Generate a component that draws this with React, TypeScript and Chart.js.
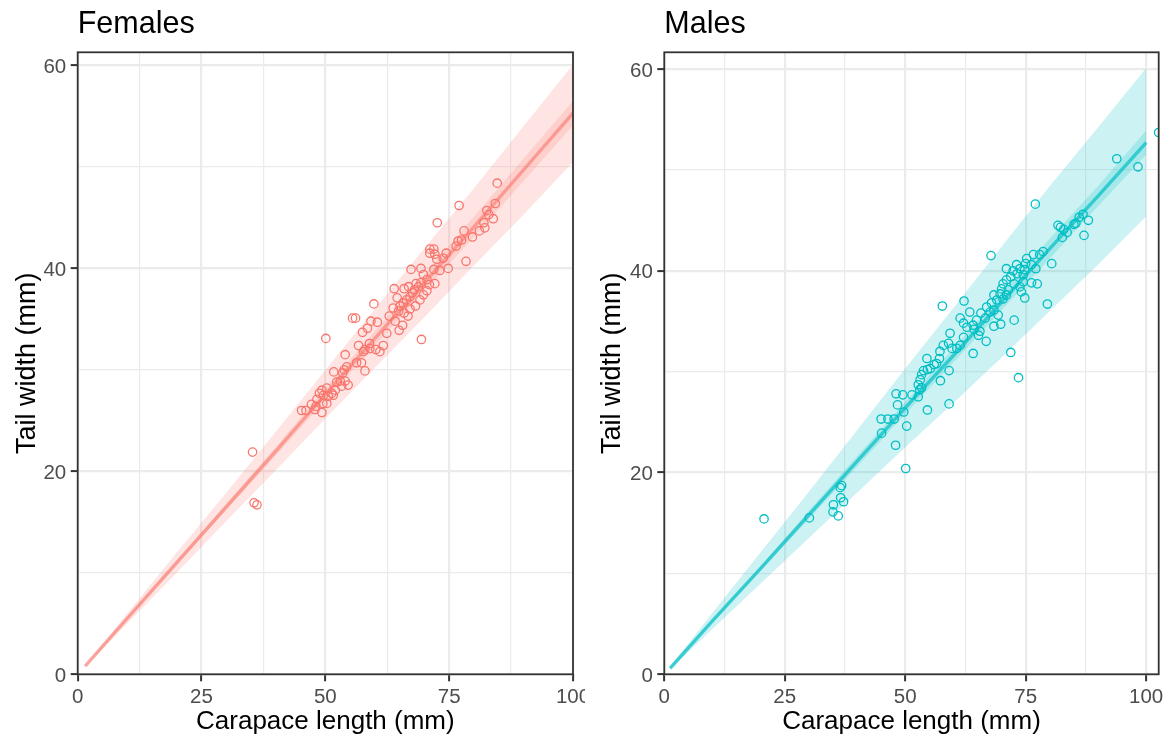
import React, { useEffect, useRef } from "react";
import { Chart, registerables } from "chart.js";
Chart.register(...registerables);

// ---------- data ----------
const panelTitles = ["Females", "Males"];
const xAxisTitle = "Carapace length (mm)";
const yAxisTitle = "Tail width (mm)";

const majorXTicks = [0, 25, 50, 75, 100];
const minorXTicks = [12.5, 37.5, 62.5, 87.5];
const majorYTicks = [0, 20, 40, 60];
const minorYTicks = [10, 30, 50];

// Females observations
const femaleX = [84.7, 77.0, 72.6, 84.3, 82.6, 83.0, 83.9, 82.0, 82.2, 81.1, 79.7, 78.0, 77.5, 76.8, 76.4, 78.4, 74.8, 74.4, 73.8, 71.1,
  71.9, 71.1, 72.1, 72.5, 73.1, 71.9, 69.3, 67.3, 69.8, 70.5, 72.1, 71.0, 69.3, 68.3, 68.8, 68.0, 70.5, 69.8, 69.1, 67.6,
  67.1, 68.2, 66.4, 65.7, 65.1, 64.8, 65.9, 67.1, 66.8, 65.9, 63.9, 64.5, 63.7, 62.9, 64.1, 65.6, 64.9, 66.7, 62.4, 59.8,
  60.5, 59.2, 58.5, 57.5, 55.5, 56.1, 50.1, 69.4, 61.7, 58.9, 59.0, 58.0, 60.2, 61.0, 56.7, 57.7, 54.0, 56.3, 57.3, 58.0,
  54.3, 53.8, 53.5, 51.7, 53.0, 52.3, 54.0, 54.6, 53.3, 52.0, 51.3, 50.3, 49.3, 48.8, 49.6, 50.6, 51.6, 48.3, 47.2, 48.1,
  49.5, 50.3, 45.2, 46.1, 47.9, 49.3, 35.3, 35.6, 36.2];
const femaleY = [48.4, 46.2, 44.5, 46.4, 45.7, 45.3, 44.9, 44.5, 44.0, 43.7, 43.1, 43.7, 42.8, 42.7, 42.2, 40.7, 40.0, 41.5, 41.0, 41.9,
  41.9, 41.5, 41.4, 40.9, 39.8, 39.9, 40.0, 39.9, 39.4, 38.9, 38.5, 38.4, 38.6, 38.5, 38.2, 37.9, 37.8, 37.4, 36.9, 37.6,
  37.2, 36.3, 36.9, 36.6, 36.3, 35.8, 35.6, 36.0, 38.2, 38.0, 38.0, 37.1, 36.1, 35.3, 34.8, 34.4, 33.9, 35.3, 33.6, 36.5,
  34.7, 34.8, 34.1, 33.7, 35.1, 35.1, 33.1, 33.0, 32.4, 32.6, 32.1, 32.0, 32.0, 31.8, 32.4, 31.8, 31.5, 30.7, 30.7, 29.9,
  30.3, 30.0, 29.7, 29.8, 28.9, 28.8, 28.9, 28.5, 28.4, 28.0, 27.7, 28.2, 28.0, 27.7, 27.5, 27.4, 27.5, 27.1, 26.6, 26.4,
  26.7, 26.7, 26.0, 26.0, 26.1, 25.8, 21.9, 16.9, 16.7];

// Males observations
const maleX = [93.9, 98.3, 77.0, 88.0, 87.1, 86.9, 86.1, 85.4, 85.0, 81.7, 82.2, 82.9, 83.6, 82.6, 67.8, 80.4, 79.5, 71.9, 57.7, 62.2,
  78.6, 77.9, 76.6, 75.2, 75.0, 76.2, 77.1, 74.8, 73.8, 73.1, 72.4, 71.0, 71.9, 73.2, 74.5, 76.2, 77.4, 74.5, 73.8, 72.6,
  71.0, 70.3, 70.0, 71.4, 69.7, 71.0, 68.4, 69.0, 70.3, 74.1, 74.8, 66.9, 67.9, 67.6, 65.7, 66.6, 64.8, 64.1, 63.4, 61.4,
  62.1, 62.8, 64.3, 65.5, 66.8, 65.2, 68.4, 69.8, 69.3, 68.4, 72.6, 59.3, 59.0, 57.9, 59.7, 60.7, 57.2, 61.4, 62.1, 64.1,
  54.5, 57.1, 73.5, 53.1, 52.7, 53.4, 54.6, 53.8, 56.5, 59.1, 57.3, 48.1, 49.5, 51.4, 52.7, 48.4, 49.7, 54.6, 59.1, 45.0,
  46.4, 47.7, 50.3, 45.1, 48.0, 50.1, 53.0, 53.4, 55.2, 56.0, 20.7, 30.1, 35.1, 35.0, 36.1, 36.8, 36.5, 36.6, 37.2, 102.6];
const maleY = [51.1, 50.3, 46.6, 45.0, 43.5, 45.6, 45.3, 44.7, 44.6, 44.5, 44.3, 44.1, 43.8, 43.3, 41.5, 40.7, 36.7, 31.9, 36.5, 37.0,
  41.9, 41.6, 41.6, 41.2, 40.7, 40.6, 40.2, 40.1, 40.2, 40.6, 40.0, 40.2, 39.4, 39.7, 39.6, 38.8, 38.7, 38.9, 38.4, 38.7,
  39.1, 38.7, 38.2, 38.1, 37.7, 37.6, 37.6, 37.1, 37.2, 37.9, 37.3, 36.4, 36.8, 35.9, 35.8, 35.3, 35.1, 34.6, 35.9, 35.3,
  34.8, 34.4, 34.2, 34.0, 33.0, 33.6, 34.5, 34.7, 35.6, 36.1, 35.1, 33.8, 32.8, 32.6, 32.3, 32.3, 32.0, 32.6, 33.4, 31.8,
  31.3, 31.3, 29.4, 29.2, 28.7, 29.7, 30.2, 30.1, 30.8, 30.1, 29.1, 27.8, 27.7, 27.7, 27.5, 26.7, 26.0, 26.2, 26.8, 25.3,
  25.3, 25.3, 24.6, 23.9, 22.7, 20.4, 28.2, 28.4, 30.3, 30.7, 15.4, 15.5, 16.8, 16.1, 15.7, 18.7, 18.5, 17.5, 17.1, 53.7];

// Fitted line and intervals (Females)
const femaleFitX = [1.5, 10, 20, 30, 40, 50, 60, 70, 80, 90, 100];
const femaleFit = [0.8, 5.5, 11.0, 16.5, 22.0, 27.6, 33.1, 38.6, 44.1, 49.7, 55.3];
const femaleInnerLo = [0.78, 5.4, 10.8, 16.2, 21.6, 27.0, 32.4, 37.8, 43.1, 48.6, 54.1];
const femaleInnerHi = [0.82, 5.6, 11.2, 16.8, 22.4, 28.2, 33.8, 39.4, 45.1, 50.8, 56.5];
const femaleOuterLo = [0.75, 5.0, 10.0, 15.1, 20.1, 25.2, 30.2, 35.2, 40.3, 45.3, 50.5];
const femaleOuterHi = [0.85, 6.0, 12.0, 17.9, 23.9, 30.0, 36.0, 42.0, 47.9, 54.0, 60.1];

// Fitted line and intervals (Males)
const maleFitX = [1.2, 10, 20, 30, 40, 50, 60, 70, 80, 90, 100];
const maleFit = [0.6, 5.3, 10.5, 15.8, 21.1, 26.4, 31.6, 36.9, 42.2, 47.4, 52.7];
const maleInnerLo = [0.58, 5.2, 10.3, 15.4, 20.6, 25.8, 30.9, 36.1, 41.2, 46.4, 51.5];
const maleInnerHi = [0.62, 5.4, 10.7, 16.2, 21.6, 27.0, 32.3, 37.7, 43.2, 48.4, 53.9];
const maleOuterLo = [0.5, 4.5, 9.0, 13.5, 18.0, 22.5, 26.9, 31.4, 36.0, 40.6, 45.4];
const maleOuterHi = [0.7, 6.1, 12.1, 18.1, 24.2, 30.3, 36.3, 42.4, 48.4, 54.2, 60.1];

// ---------- helpers ----------
const FONT = "'Liberation Sans', Arial, Helvetica, sans-serif";
Chart.defaults.font.family = FONT;

const pts = (xs: number[], ys: number[]) => xs.map((x, i) => ({ x, y: ys[i] }));
const allX = [...majorXTicks, ...minorXTicks].sort((a, b) => a - b);
const allY = [...majorYTicks, ...minorYTicks].sort((a, b) => a - b);

const decoPlugin = {
  id: "panelDeco",
  afterDatasetsDraw(chart: any) {
    const { ctx, chartArea } = chart;
    const { left, top, right, bottom } = chartArea;
    ctx.save();
    ctx.strokeStyle = "#333333";
    ctx.lineWidth = 1.8;
    ctx.strokeRect(left, top, right - left, bottom - top);
    ctx.restore();
  },
  afterDraw(chart: any, _args: any, opts: any) {
    const { ctx, chartArea } = chart;
    ctx.save();
    ctx.font = `30.5px ${FONT}`;
    ctx.fillStyle = "#000000";
    ctx.textBaseline = "alphabetic";
    ctx.textAlign = "left";
    ctx.fillText(opts.text, chartArea.left, 32.5);
    ctx.restore();
  },
};

type PanelCfg = {
  title: string;
  left: number;
  width: number;
  yAxisWidth: number;
  padRight: number;
  xMax: number;
  yMax: number;
  rgb: string;
  lineAlpha: number;
  px: number[];
  py: number[];
  fitX: number[];
  fit: number[];
  innerLo: number[];
  innerHi: number[];
  outerLo: number[];
  outerHi: number[];
};

function Panel({ cfg }: { cfg: PanelCfg }) {
  const ref = useRef<HTMLCanvasElement>(null);
  useEffect(() => {
    const c = `rgb(${cfg.rgb})`;
    const band = `rgba(${cfg.rgb},0.2)`;
    const chart = new Chart(ref.current as HTMLCanvasElement, {
      type: "scatter",
      data: {
        datasets: [
          { type: "line", data: pts(cfg.fitX, cfg.outerLo), borderWidth: 0, pointRadius: 0, fill: false, order: 4, clip: 0 } as any,
          { type: "line", data: pts(cfg.fitX, cfg.outerHi), borderWidth: 0, pointRadius: 0, fill: "-1", backgroundColor: band, order: 4, clip: 0 } as any,
          { type: "line", data: pts(cfg.fitX, cfg.innerLo), borderWidth: 0, pointRadius: 0, fill: false, order: 3, clip: 0 } as any,
          { type: "line", data: pts(cfg.fitX, cfg.innerHi), borderWidth: 0, pointRadius: 0, fill: "-1", backgroundColor: band, order: 3, clip: 0 } as any,
          { type: "line", data: pts(cfg.fitX, cfg.fit), borderColor: `rgba(${cfg.rgb},${cfg.lineAlpha})`, borderWidth: 3.4, pointRadius: 0, fill: false, order: 2, clip: 0 } as any,
          {
            type: "scatter",
            data: pts(cfg.px, cfg.py),
            pointRadius: 4.2,
            pointBorderWidth: 1.3,
            borderColor: c,
            pointBorderColor: c,
            backgroundColor: "rgba(0,0,0,0)",
            pointBackgroundColor: "rgba(0,0,0,0)",
            order: 1,
            clip: 0,
          } as any,
        ],
      },
      options: {
        responsive: false,
        animation: false,
        devicePixelRatio: 1,
        events: [],
        layout: { padding: { left: 0, right: cfg.padRight, top: 52.3, bottom: 0 } },
        plugins: {
          legend: { display: false },
          tooltip: { enabled: false },
          title: { display: false },
          panelDeco: { text: cfg.title },
        } as any,
        scales: {
          x: {
            type: "linear",
            min: 0,
            max: cfg.xMax,
            afterBuildTicks: (s: any) => {
              s.ticks = allX.map((v) => ({ value: v }));
            },
            afterFit: (s: any) => {
              s.height = 65.7;
              s.paddingLeft = 0;
              s.paddingRight = 0;
              s.paddingTop = 0;
              s.paddingBottom = 0;
            },
            ticks: {
              autoSkip: false,
              maxRotation: 0,
              minRotation: 0,
              padding: 3.3,
              color: "#4D4D4D",
              font: { size: 20.5, family: FONT },
              callback: (v: any) => (majorXTicks.includes(Number(v)) ? String(v) : ""),
            },
            grid: {
              color: "#EBEBEB",
              lineWidth: (ctx: any) => (majorXTicks.includes(ctx.tick?.value) ? 2.2 : 1.2),
              tickColor: (ctx: any) => (majorXTicks.includes(ctx.tick?.value) ? "#333333" : "rgba(0,0,0,0)"),
              tickLength: 7,
              tickWidth: 2,
            },
            border: { display: false },
            title: {
              display: true,
              text: xAxisTitle,
              color: "#000000",
              font: { size: 26, family: FONT },
              padding: { top: 0, bottom: 2.5 },
            },
          },
          y: {
            type: "linear",
            min: 0,
            max: cfg.yMax,
            afterBuildTicks: (s: any) => {
              s.ticks = allY.map((v) => ({ value: v }));
            },
            afterFit: (s: any) => {
              s.width = cfg.yAxisWidth;
              s.paddingLeft = 0;
              s.paddingRight = 0;
              s.paddingTop = 0;
              s.paddingBottom = 0;
            },
            ticks: {
              autoSkip: false,
              padding: 4.5,
              labelOffset: 2,
              color: "#4D4D4D",
              font: { size: 20.5, family: FONT },
              callback: (v: any) => (majorYTicks.includes(Number(v)) ? String(v) : ""),
            },
            grid: {
              color: "#EBEBEB",
              lineWidth: (ctx: any) => (majorYTicks.includes(ctx.tick?.value) ? 2.2 : 1.2),
              tickColor: (ctx: any) => (majorYTicks.includes(ctx.tick?.value) ? "#333333" : "rgba(0,0,0,0)"),
              tickLength: 7,
              tickWidth: 2,
            },
            border: { display: false },
            title: {
              display: true,
              text: yAxisTitle,
              color: "#000000",
              font: { size: 27, family: FONT },
              padding: { top: 11.4, bottom: 0 },
            },
          },
        },
      } as any,
      plugins: [decoPlugin as any],
    });
    return () => chart.destroy();
  }, [cfg]);
  return (
    <canvas
      ref={ref}
      width={cfg.width}
      height={740}
      style={{ position: "absolute", left: cfg.left, top: 0, width: cfg.width, height: 740 }}
    />
  );
}

const femaleCfg: PanelCfg = {
  title: panelTitles[0],
  left: 0,
  width: 585,
  yAxisWidth: 77.7,
  padRight: 12,
  xMax: 100,
  yMax: 61.3,
  rgb: "248,118,109",
  lineAlpha: 0.6,
  px: femaleX,
  py: femaleY,
  fitX: femaleFitX,
  fit: femaleFit,
  innerLo: femaleInnerLo,
  innerHi: femaleInnerHi,
  outerLo: femaleOuterLo,
  outerHi: femaleOuterHi,
};

const maleCfg: PanelCfg = {
  title: panelTitles[1],
  left: 585,
  width: 584,
  yAxisWidth: 79.3,
  padRight: 10.3,
  xMax: 102.6,
  yMax: 61.65,
  rgb: "0,191,196",
  lineAlpha: 0.7,
  px: maleX,
  py: maleY,
  fitX: maleFitX,
  fit: maleFit,
  innerLo: maleInnerLo,
  innerHi: maleInnerHi,
  outerLo: maleOuterLo,
  outerHi: maleOuterHi,
};

export default function App() {
  return (
    <div style={{ position: "fixed", left: 0, top: 0, width: 1169, height: 740, background: "#ffffff", overflow: "hidden" }}>
      <Panel cfg={femaleCfg} />
      <Panel cfg={maleCfg} />
    </div>
  );
}
